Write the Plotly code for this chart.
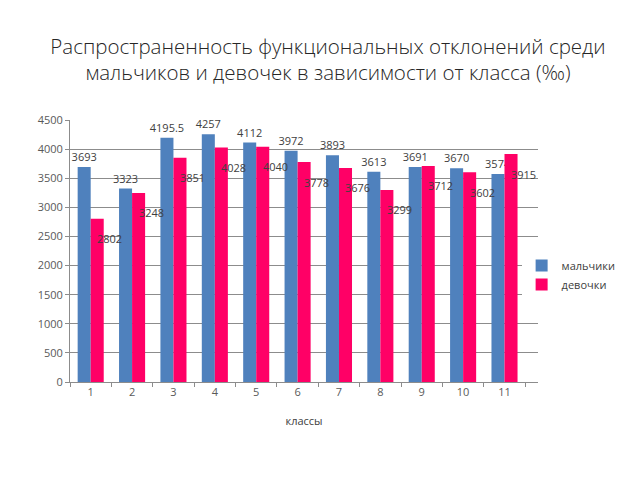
import plotly.graph_objects as go

classes = ["1", "2", "3", "4", "5", "6", "7", "8", "9", "10", "11"]
boys = [3693, 3323, 4195.5, 4257, 4112, 3972, 3893, 3613, 3691, 3670, 3574]
girls = [2802, 3248, 3851, 4028, 4040, 3778, 3676, 3299, 3712, 3602, 3915]
boys_labels = ["3693", "3323", "4195.5", "4257", "4112", "3972", "3893", "3613", "3691", "3670", "3574"]
girls_labels = ["2802", "3248", "3851", "4028", "4040", "3778", "3676", "3299", "3712", "3602", "3915"]

BLUE = "#4F81BD"
PINK = "#FF0066"
GRID = "#8C8C8C"
TEXT = "#404040"
FONT = "Open Sans"

fig = go.Figure()
fig.add_trace(
    go.Bar(
        name="мальчики",
        x=classes,
        y=boys,
        marker_color=BLUE,
        marker_line_width=0,
        text=boys_labels,
        textposition="outside",
        constraintext="none",
        textfont={"size": 11, "color": TEXT, "family": FONT},
        cliponaxis=False,
    )
)
fig.add_trace(
    go.Bar(
        name="девочки",
        x=classes,
        y=girls,
        marker_color=PINK,
        marker_line_width=0,
    )
)

# girls' labels sit off to the right, a bit below the bar top, like the original
annotations = []
for i, (val, lab) in enumerate(zip(girls, girls_labels)):
    annotations.append(
        {
            "x": i,
            "y": val,
            "xref": "x",
            "yref": "y",
            "text": lab,
            "showarrow": False,
            "xshift": 19,
            "yshift": -20,
            "font": {"size": 11, "color": TEXT, "family": FONT},
        }
    )

fig.update_layout(
    width=640,
    height=480,
    barmode="group",
    bargap=0.37,
    bargroupgap=0,
    plot_bgcolor="white",
    paper_bgcolor="white",
    font={"family": FONT, "size": 11, "color": TEXT},
    title={
        "text": "Распространенность функциональных отклонений среди<br>мальчиков и девочек в зависимости от класса (‰)",
        "x": 0.5,
        "xanchor": "center",
        "y": 0.905,
        "yanchor": "top",
        "font": {"family": FONT, "size": 20.5, "color": "#262626", "weight": 300},
    },
    margin={"l": 62, "r": 110, "t": 112, "b": 106},
    xaxis={
        "title": {"text": "классы", "font": {"size": 11, "color": TEXT}, "standoff": 19},
        "showline": True,
        "linecolor": GRID,
        "ticks": "outside",
        "tickson": "boundaries",
        "ticklen": 4,
        "tickcolor": GRID,
        "tickfont": {"size": 11, "color": "#595959"},
    },
    yaxis={
        "range": [0, 4500],
        "dtick": 500,
        "showgrid": True,
        "gridcolor": GRID,
        "gridwidth": 1,
        "showline": True,
        "linecolor": GRID,
        "ticks": "outside",
        "ticklen": 4,
        "tickcolor": GRID,
        "tickfont": {"size": 11, "color": "#595959"},
        "zeroline": False,
    },
    legend={
        "x": 0.965,
        "y": 0.5,
        "xanchor": "left",
        "yanchor": "top",
        "font": {"size": 11, "color": TEXT},
        "itemwidth": 30,
        "tracegroupgap": 0,
    },
    annotations=annotations,
)

fig.write_html("out.html")
